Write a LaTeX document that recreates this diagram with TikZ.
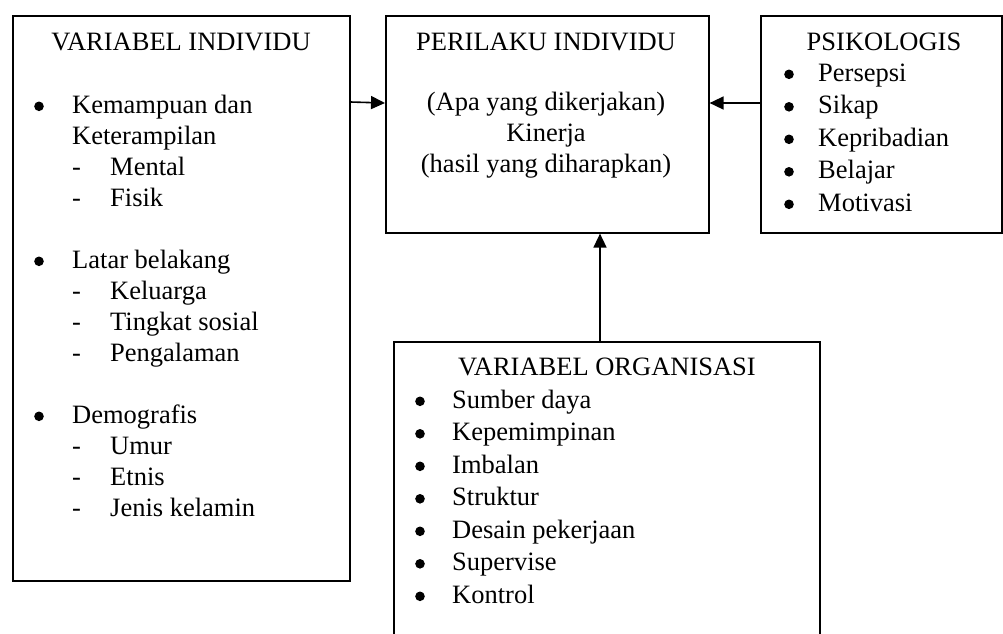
\documentclass[tikz,border=0pt]{standalone}
\usepackage{fontspec}
\setmainfont{Liberation Serif}
\usetikzlibrary{arrows.meta}
\tikzset{
  box/.style={draw, line width=1.6pt, inner sep=0pt, anchor=north west},
  txt/.style={anchor=base west, inner sep=0pt, font=\fontsize{26.5}{30}\selectfont},
  ctr/.style={anchor=base, inner sep=0pt, font=\fontsize{26.5}{30}\selectfont},
  bul/.style={circle, fill, inner sep=0pt, minimum size=9.6pt, yshift=6.7pt},
  arr/.style={line width=1.6pt, -{Triangle[length=14pt,width=13pt]}}
}
\begin{document}
\begin{tikzpicture}[x=1pt,y=-1pt]
\useasboundingbox (0,0) rectangle (1003,633);
\clip (0,0) rectangle (1003,633);
% boxes
\node[box, minimum width=337pt, minimum height=565pt] (vi) at (12,15) {};
\node[box, minimum width=323pt, minimum height=217pt] (pi) at (385,15) {};
\node[box, minimum width=241pt, minimum height=217pt] (ps) at (760,15) {};
\node[box, minimum width=426pt, minimum height=320pt] (vo) at (393,341) {};
% connectors
\draw[arr] (vi.east |- 0,102) -- (pi.west |- 0,103);
\draw[arr] (ps.west |- 0,103) -- (pi.east |- 0,103);
\draw[arr] (vo.north -| 600,0) -- (pi.south -| 600,0);
% VARIABEL INDIVIDU
\node[ctr] (vit) at (181,50) {VARIABEL INDIVIDU};
\node[bul] (vib1) at (39,113) {};
\node[txt] (vi1) at (72,113) {Kemampuan dan};
\node[txt] (vi2) at (72,144) {Keterampilan};
\node[txt] (vid1) at (72,175) {-};
\node[txt] (vi3) at (110,175) {Mental};
\node[txt] (vid2) at (72,206) {-};
\node[txt] (vi4) at (110,206) {Fisik};
\node[bul] (vib2) at (39,268) {};
\node[txt] (vi5) at (72,268) {Latar belakang};
\node[txt] (vid3) at (72,299) {-};
\node[txt] (vi6) at (110,299) {Keluarga};
\node[txt] (vid4) at (72,330) {-};
\node[txt] (vi7) at (110,330) {Tingkat sosial};
\node[txt] (vid5) at (72,361) {-};
\node[txt] (vi8) at (110,361) {Pengalaman};
\node[bul] (vib3) at (39,423) {};
\node[txt] (vi9) at (72,423) {Demografis};
\node[txt] (vid6) at (72,454) {-};
\node[txt] (vi10) at (110,454) {Umur};
\node[txt] (vid7) at (72,485) {-};
\node[txt] (vi11) at (110,485) {Etnis};
\node[txt] (vid8) at (72,516) {-};
\node[txt] (vi12) at (110,516) {Jenis kelamin};
% PERILAKU INDIVIDU
\node[ctr] (pit) at (546,50) {PERILAKU INDIVIDU};
\node[ctr] (pi1) at (546,110) {(Apa yang dikerjakan)};
\node[ctr] (pi2) at (546,141) {Kinerja};
\node[ctr] (pi3) at (546,172) {(hasil yang diharapkan)};
% PSIKOLOGIS
\node[ctr] (pst) at (884,50) {PSIKOLOGIS};
\node[bul] (psb1) at (789,81) {};
\node[txt] (ps1) at (818,81) {Persepsi};
\node[bul] (psb2) at (789,113.5) {};
\node[txt] (ps2) at (818,113.5) {Sikap};
\node[bul] (psb3) at (789,146) {};
\node[txt] (ps3) at (818,146) {Kepribadian};
\node[bul] (psb4) at (789,178.5) {};
\node[txt] (ps4) at (818,178.5) {Belajar};
\node[bul] (psb5) at (789,211) {};
\node[txt] (ps5) at (818,211) {Motivasi};
% VARIABEL ORGANISASI
\node[ctr] (vot) at (607,375) {VARIABEL ORGANISASI};
\node[bul] (vob1) at (420,408) {};
\node[txt] (vo1) at (452,408) {Sumber daya};
\node[bul] (vob2) at (420,440.5) {};
\node[txt] (vo2) at (452,440.5) {Kepemimpinan};
\node[bul] (vob3) at (420,473) {};
\node[txt] (vo3) at (452,473) {Imbalan};
\node[bul] (vob4) at (420,505.5) {};
\node[txt] (vo4) at (452,505.5) {Struktur};
\node[bul] (vob5) at (420,538) {};
\node[txt] (vo5) at (452,538) {Desain pekerjaan};
\node[bul] (vob6) at (420,570.5) {};
\node[txt] (vo6) at (452,570.5) {Supervise};
\node[bul] (vob7) at (420,603) {};
\node[txt] (vo7) at (452,603) {Kontrol};
\end{tikzpicture}
\end{document}
